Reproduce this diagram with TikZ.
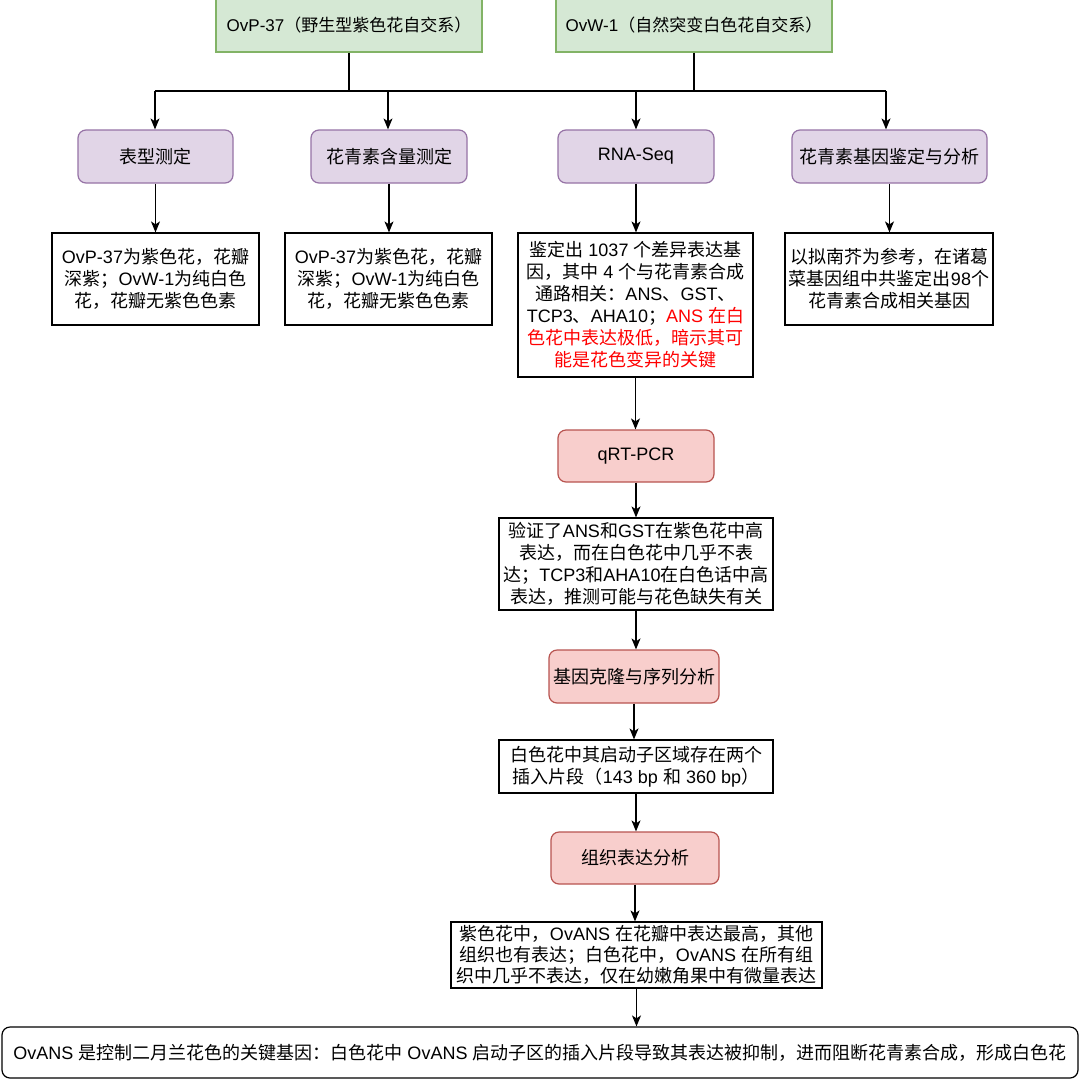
\documentclass[tikz,border=0pt]{standalone}
\usepackage{fontspec}
\setmainfont{Liberation Sans}
\newfontfamily\cjkfont{Noto Sans CJK SC}
\newfontfamily\latfont{Liberation Sans}
\usetikzlibrary{arrows.meta}
\newXeTeXintercharclass\CJKcls
\newcount\cccount
\cccount="3000 \loop \XeTeXcharclass\cccount=\CJKcls \advance\cccount by 1 \ifnum\cccount<"3040 \repeat
\cccount="4E00 \loop \XeTeXcharclass\cccount=\CJKcls \advance\cccount by 1 \ifnum\cccount<"A000 \repeat
\cccount="FF00 \loop \XeTeXcharclass\cccount=\CJKcls \advance\cccount by 1 \ifnum\cccount<"FFF0 \repeat
\XeTeXinterchartoks 0 \CJKcls = {\cjkfont}
\XeTeXinterchartoks 4095 \CJKcls = {\cjkfont}
\XeTeXinterchartoks \CJKcls 0 = {\latfont}
\XeTeXinterchartoks \CJKcls 4095 = {\latfont}
\XeTeXinterchartokenstate=1
\definecolor{gfill}{HTML}{D5E8D4}
\definecolor{gline}{HTML}{82B366}
\definecolor{pfill}{HTML}{E1D5E7}
\definecolor{pline}{HTML}{9673A6}
\definecolor{rfill}{HTML}{F8CECC}
\definecolor{rline}{HTML}{B85450}
\definecolor{redtext}{HTML}{FF0000}
\begin{document}
\begin{tikzpicture}[x=1pt,y=-1pt,
  base/.style={inner sep=0pt, align=center, line width=1.2pt, font=\fontsize{18}{22}\selectfont},
  topbox/.style={base, draw=gline, fill=gfill, font=\fontsize{17}{21}\selectfont},
  purplebox/.style={base, draw=pline, fill=pfill, rounded corners=8pt},
  redbox/.style={base, draw=rline, fill=rfill, rounded corners=8pt},
  whitebox/.style={base, draw=black, fill=white},
  finalbox/.style={base, draw=black, fill=white, rounded corners=8pt},
  conn/.style={line width=1.2pt, draw=black},
  arr/.style={conn, -{Stealth[length=11pt,width=9pt,inset=3pt]}}
]
\useasboundingbox (0,0) rectangle (1080,1080);
\fill[white] (0,0) rectangle (1080,1080);

\node[topbox, minimum width=266pt, minimum height=54pt] (t1) at (349,25) {OvP-37（野生型紫色花自交系）};
\node[topbox, minimum width=276pt, minimum height=54pt] (t2) at (694,25) {OvW-1（自然突变白色花自交系）};

\node[purplebox, minimum width=155pt, minimum height=53pt] (p1) at (155.5,156.5) {表型测定};
\node[purplebox, minimum width=156pt, minimum height=53pt] (p2) at (389,156.5) {花青素含量测定};
\node[purplebox, minimum width=156pt, minimum height=53pt] (p3) at (636,156.5) {RNA-Seq};
\node[purplebox, minimum width=195pt, minimum height=53pt] (p4) at (889.5,156.5) {花青素基因鉴定与分析};

\node[whitebox, minimum width=207pt, minimum height=92pt] (w1) at (155.5,279) {OvP-37为紫色花，花瓣\\深紫；OvW-1为纯白色\\花，花瓣无紫色色素};
\node[whitebox, minimum width=207pt, minimum height=92pt] (w2) at (388.5,279) {OvP-37为紫色花，花瓣\\深紫；OvW-1为纯白色\\花，花瓣无紫色色素};
\node[whitebox, minimum width=235pt, minimum height=144pt] (w3) at (635.5,305) {鉴定出 1037 个差异表达基\\因，其中 4 个与花青素合成\\通路相关：ANS、GST、\\TCP3、AHA10；{\color{redtext}ANS 在白}\\{\color{redtext}色花中表达极低，暗示其可}\\{\color{redtext}能是花色变异的关键}};
\node[whitebox, minimum width=208pt, minimum height=92pt] (w4) at (889,279) {以拟南芥为参考，在诸葛\\菜基因组中共鉴定出98个\\花青素合成相关基因};

\node[redbox, minimum width=156pt, minimum height=52pt] (r1) at (636,456) {qRT-PCR};
\node[whitebox, minimum width=274pt, minimum height=92pt] (w5) at (636,564) {验证了ANS和GST在紫色花中高\\表达，而在白色花中几乎不表\\达；TCP3和AHA10在白色话中高\\表达，推测可能与花色缺失有关};
\node[redbox, minimum width=170pt, minimum height=53pt] (r2) at (634,676.5) {基因克隆与序列分析};
\node[whitebox, minimum width=274pt, minimum height=53pt] (w6) at (636,766.5) {白色花中其启动子区域存在两个\\插入片段（143 bp 和 360 bp）};
\node[redbox, minimum width=168pt, minimum height=52pt] (r3) at (635,858) {组织表达分析};
\node[whitebox, minimum width=371pt, minimum height=66pt, font=\fontsize{18}{21}\selectfont] (w7) at (636.5,955) {紫色花中，OvANS 在花瓣中表达最高，其他\\组织也有表达；白色花中，OvANS 在所有组\\织中几乎不表达，仅在幼嫩角果中有微量表达};
\node[finalbox, minimum width=1076pt, minimum height=51pt] (f) at (540,1052.5) {OvANS 是控制二月兰花色的关键基因：白色花中 OvANS 启动子区的插入片段导致其表达被抑制，进而阻断花青素合成，形成白色花};

% bus
\coordinate (busL) at (155,91);
\coordinate (busR) at (886,91);
\coordinate (b1) at (t1.south |- busL);
\coordinate (b2) at (t2.south |- busL);
\coordinate (j1) at (155,91);
\coordinate (j2) at (388,91);
\coordinate (j3) at (636,91);
\coordinate (j4) at (886,91);
\draw[conn] (t1.south) -- (b1);
\draw[conn] (t2.south) -- (b2);
\draw[conn] (busL) -- (busR);
\draw[arr] (j1) -- (j1 |- p1.north);
\draw[arr] (j2) -- (j2 |- p2.north);
\draw[arr] (j3) -- (j3 |- p3.north);
\draw[arr] (j4) -- (j4 |- p4.north);

\draw[arr] (p1.south) -- (p1.south |- w1.north);
\draw[arr] (p2.south) -- (p2.south |- w2.north);
\draw[arr] (p3.south) -- (p3.south |- w3.north);
\draw[arr] (p4.south) -- (p4.south |- w4.north);

\draw[arr] (w3.south) -- (w3.south |- r1.north);
\draw[arr] (r1.south) -- (r1.south |- w5.north);
\draw[arr] (w5.south) -- (w5.south |- r2.north);
\draw[arr] (r2.south) -- (r2.south |- w6.north);
\draw[arr] (w6.south) -- (w6.south |- r3.north);
\draw[arr] (r3.south) -- (r3.south |- w7.north);
\draw[arr] (w7.south) -- (w7.south |- f.north);
\end{tikzpicture}
\end{document}
